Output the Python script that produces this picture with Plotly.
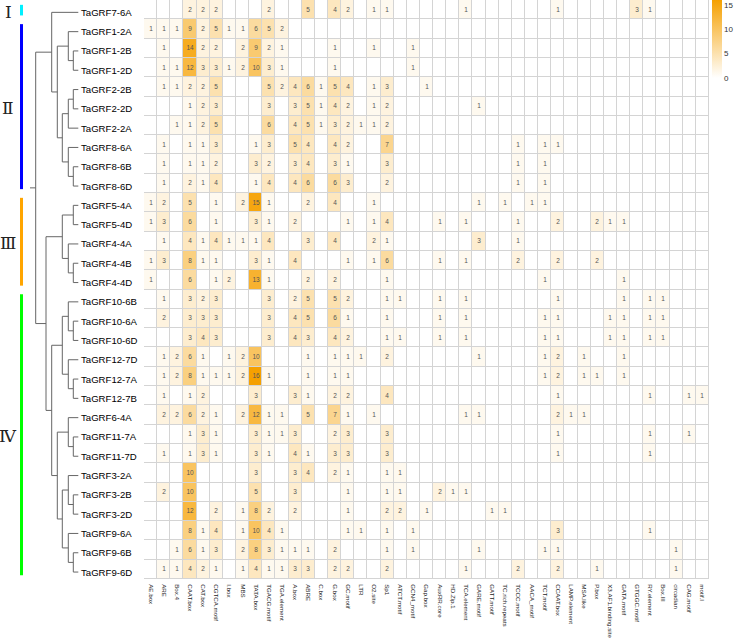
import plotly.graph_objects as go

W, H = 739, 642

genes = ["TaGRF7-6A", "TaGRF1-2A", "TaGRF1-2B", "TaGRF1-2D", "TaGRF2-2B", "TaGRF2-2D",
         "TaGRF2-2A", "TaGRF8-6A", "TaGRF8-6B", "TaGRF8-6D", "TaGRF5-4A", "TaGRF5-4D",
         "TaGRF4-4A", "TaGRF4-4B", "TaGRF4-4D", "TaGRF10-6B", "TaGRF10-6A", "TaGRF10-6D",
         "TaGRF12-7D", "TaGRF12-7A", "TaGRF12-7B", "TaGRF6-4A", "TaGRF11-7A", "TaGRF11-7D",
         "TaGRF3-2A", "TaGRF3-2B", "TaGRF3-2D", "TaGRF9-6A", "TaGRF9-6B", "TaGRF9-6D"]

motifs = ["AE.box", "ARE", "Box.4", "CAAT.box", "CAT.box", "CGTCA.motif", "I.box", "MBS",
          "TATA.box", "TGACG.motif", "TGA.element", "A.box", "ABRE", "C.box", "G.box",
          "GC.motif", "LTR", "O2.site", "Sp1", "ATCT.motif", "GCN4_motif", "Gap.box",
          "AuxRR.core", "HD.Zip.1", "TCA.element", "GARE.motif", "GATT.motif",
          "TC.rich.repeats", "TCCC.motif", "AACA_motif", "TCT.motif", "CCAAT.box",
          "LAMP.element", "MSA.like", "P.box", "X3.AF1.binding.site", "GATA.motif",
          "GTGGC.motif", "RY.element", "Box.III", "circadian", "CAG.motif", "motif.I"]

counts = [
    [0,0,0,2,2,2,0,0,0,2, 0,0,5,0,4,2,0,1,1,0, 0,0,0,0,1,0,0,0,0,0, 0,1,0,0,0,0,0,3,1,0, 0,0,0],
    [1,1,1,9,2,5,1,1,6,5, 2,0,0,0,0,0,0,0,0,0, 0,0,0,0,0,0,0,0,0,0, 0,0,0,0,0,0,0,0,0,0, 0,0,0],
    [0,1,0,14,2,2,0,2,9,2, 1,0,0,0,1,0,0,1,0,0, 1,0,0,0,0,0,0,0,0,0, 0,0,0,0,0,0,0,0,0,0, 0,0,0],
    [0,1,1,12,3,3,1,2,10,3, 1,0,0,0,1,0,0,0,0,0, 1,0,0,0,0,0,0,0,0,0, 0,0,0,0,0,0,0,0,0,0, 0,0,0],
    [0,1,1,2,2,5,0,0,0,5, 2,4,6,1,5,4,0,1,3,0, 0,1,0,0,0,0,0,0,0,0, 0,0,0,0,0,0,0,0,0,0, 0,0,0],
    [0,0,0,1,2,3,0,0,0,3, 0,3,5,1,4,2,0,1,2,0, 0,0,0,0,0,1,0,0,0,0, 0,0,0,0,0,0,0,0,0,0, 0,0,0],
    [0,0,1,1,2,5,0,0,0,6, 0,4,5,1,3,2,1,1,2,0, 0,0,0,0,0,0,0,0,0,0, 0,0,0,0,0,0,0,0,0,0, 0,0,0],
    [0,1,0,1,1,3,0,0,1,3, 0,5,4,0,4,2,0,0,7,0, 0,0,0,0,0,0,0,0,1,0, 1,1,0,0,0,0,0,0,0,0, 0,0,0],
    [0,1,0,1,1,2,0,0,3,2, 0,3,4,0,3,1,0,0,3,0, 0,0,0,0,0,0,0,0,1,0, 1,0,0,0,0,0,0,0,0,0, 0,0,0],
    [0,1,0,2,1,4,0,0,1,4, 0,4,6,0,6,3,0,0,2,0, 0,0,0,0,0,0,0,0,1,0, 1,0,0,0,0,0,0,0,0,0, 0,0,0],
    [1,2,0,5,0,1,0,2,15,1, 0,0,2,0,4,0,0,1,0,0, 0,0,0,0,0,1,0,1,0,1, 1,0,0,0,0,0,0,0,0,0, 0,0,0],
    [1,3,0,6,0,1,0,0,3,1, 0,2,0,0,0,1,0,1,4,0, 0,0,1,0,1,0,0,0,1,0, 0,2,0,0,2,1,1,0,0,0, 0,0,0],
    [0,1,0,4,1,4,1,1,1,4, 0,0,3,0,4,0,0,2,1,0, 0,0,0,0,0,3,0,0,1,0, 0,0,0,0,0,0,0,0,0,0, 0,0,0],
    [1,3,0,8,1,1,0,0,3,1, 0,4,0,0,0,1,0,1,6,0, 0,0,1,0,1,0,0,0,2,0, 0,2,0,0,2,0,0,0,0,0, 0,0,0],
    [1,0,0,6,0,1,2,0,13,1, 0,0,2,0,2,0,0,0,1,0, 0,0,0,0,0,0,0,0,0,0, 1,0,0,0,0,0,1,0,0,0, 0,0,0],
    [0,1,0,3,2,3,0,0,0,3, 0,2,5,0,5,2,0,0,1,1, 0,0,1,0,1,0,0,0,0,0, 0,1,0,0,0,0,1,0,1,1, 0,0,0],
    [0,2,0,3,3,3,0,0,0,3, 0,4,5,0,6,1,0,0,1,0, 0,0,1,0,1,0,0,0,0,0, 1,1,0,0,0,1,1,0,1,1, 0,0,0],
    [0,0,0,3,4,3,0,0,0,3, 0,4,3,0,4,2,0,0,1,1, 0,0,1,0,1,0,0,0,0,0, 1,1,0,0,0,1,1,0,1,1, 0,0,0],
    [0,1,2,6,1,0,1,2,10,0, 0,0,1,0,1,1,1,0,2,0, 0,0,0,0,0,1,0,0,0,0, 1,2,0,1,0,0,1,0,0,0, 0,0,0],
    [0,1,2,8,1,1,1,2,16,1, 0,0,1,0,1,1,0,0,0,0, 0,0,0,0,0,0,0,0,0,0, 1,2,0,1,1,0,1,0,0,0, 0,0,0],
    [0,1,0,1,2,0,0,0,3,0, 0,3,1,0,2,2,0,0,4,0, 0,0,0,0,0,0,0,0,0,0, 0,1,0,0,0,0,0,0,1,0, 0,1,1],
    [0,2,2,6,2,1,0,2,12,1, 1,0,5,0,7,1,0,1,0,0, 0,0,0,0,1,1,0,0,0,0, 0,2,1,1,0,0,0,0,0,0, 0,0,0],
    [0,0,0,1,3,1,0,0,3,1, 1,3,0,0,2,3,0,0,3,0, 0,0,0,0,0,0,0,0,0,0, 0,1,0,0,0,0,0,0,1,0, 0,1,0],
    [0,1,0,1,3,1,0,0,3,1, 0,4,1,0,3,3,0,0,3,0, 0,0,0,0,0,0,0,0,0,0, 0,1,0,0,0,0,0,0,1,0, 0,0,0],
    [0,0,0,10,0,0,0,0,3,0, 0,3,4,0,2,1,0,0,1,1, 0,0,0,0,0,0,0,0,0,0, 0,0,0,0,0,0,0,0,0,0, 0,0,0],
    [0,2,0,10,0,0,0,0,5,0, 0,3,0,0,0,1,0,0,1,1, 0,0,2,1,1,0,0,0,0,0, 0,0,0,0,0,0,0,0,0,0, 0,0,0],
    [0,0,0,12,0,2,0,1,8,2, 0,2,0,0,0,1,0,0,2,2, 0,1,0,0,0,0,1,1,0,0, 0,0,0,0,0,0,0,0,0,0, 0,0,0],
    [0,0,0,8,1,4,0,1,10,4, 1,0,0,0,0,1,1,0,1,0, 1,0,0,0,0,0,0,0,0,0, 0,3,0,0,0,0,0,0,1,0, 0,0,0],
    [0,0,1,6,1,3,0,2,8,3, 1,1,1,0,2,0,0,0,1,0, 1,0,0,0,0,1,0,0,0,0, 1,1,0,0,0,0,0,0,0,0, 1,0,0],
    [0,1,1,4,2,1,0,1,4,1, 1,3,3,0,2,2,0,0,2,0, 0,0,0,0,1,0,0,0,2,0, 0,2,0,0,1,0,0,0,0,0, 1,0,0],
]

# dendrogram: (merge height, left, right)
tree = (42.6,
        (26.6, "TaGRF7-6A",
         (21, (10, "TaGRF1-2A", (5, "TaGRF1-2B", "TaGRF1-2D")),
          (16, (10, (5, "TaGRF2-2B", "TaGRF2-2D"), "TaGRF2-2A"),
           (10, "TaGRF8-6A", (5, "TaGRF8-6B", "TaGRF8-6D"))))),
        (32.3,
         (16, (5, "TaGRF5-4A", "TaGRF5-4D"), (10, "TaGRF4-4A", (5, "TaGRF4-4B", "TaGRF4-4D"))),
         (26.6,
          (16, (10, "TaGRF10-6B", (5, "TaGRF10-6A", "TaGRF10-6D")),
           (10, "TaGRF12-7D", (5, "TaGRF12-7A", "TaGRF12-7B"))),
          (21, (10, "TaGRF6-4A", (5, "TaGRF11-7A", "TaGRF11-7D")),
           (16, (10, "TaGRF3-2A", (5, "TaGRF3-2B", "TaGRF3-2D")),
            (10, "TaGRF9-6A", (5, "TaGRF9-6B", "TaGRF9-6D")))))))
root_stub = 48.3

group_names = ["Ⅰ", "Ⅱ", "Ⅲ", "Ⅳ"]
group_first = [0, 1, 10, 15]
group_last = [0, 9, 14, 29]
group_colors = ["#00F0FF", "#0000FF", "#FFA500", "#00FF00"]

# ---------------- figure ----------------
nrow, ncol = len(genes), len(motifs)
hm_left, hm_right, hm_top, hm_bottom = 144, 709, 0, 579
label_shift = 2.7

fig = go.Figure()

text = [[str(v) if v else "" for v in row] for row in counts]
fig.add_trace(go.Heatmap(
    z=counts, x=list(range(ncol)), y=list(range(nrow)),
    text=text, texttemplate="%{text}",
    textfont=dict(size=6.5, color="#555555", family="Liberation Sans, Arial"),
    colorscale=[[0, "#FFFFFF"], [1, "#F5A000"]], zmin=0, zmax=16,
    xgap=1, ygap=1, hoverinfo="skip",
    colorbar=dict(x=712 / W, xanchor="left", y=1, yanchor="top",
                  len=78, lenmode="pixels", thickness=10, thicknessmode="pixels",
                  outlinewidth=0, tickvals=[0, 5, 10, 15], ticks="",
                  tickfont=dict(size=8, color="#333333", family="Liberation Sans, Arial"),
                  xpad=0, ypad=0),
))

# dendrogram
xs, ys = [], []
def place(node):
    if isinstance(node, str):
        return genes.index(node), 0.0
    h, a, b = node
    ya, ha = place(a)
    yb, hb = place(b)
    xs.extend([-ha, -h, -h, -hb, None])
    ys.extend([ya, ya, yb, yb, None])
    return (ya + yb) / 2, h
ry, rh = place(tree)
xs.extend([-rh, -root_stub])
ys.extend([ry, ry])
fig.add_trace(go.Scatter(x=xs, y=ys, mode="lines", xaxis="x2", yaxis="y2",
                         line=dict(color="#666666", width=1), hoverinfo="skip",
                         showlegend=False))

annotations = []
for i, g in enumerate(genes):
    annotations.append(dict(x=1.0, y=i, xref="x2", yref="y2", text=g, showarrow=False,
                            xanchor="left", yanchor="middle",
                            font=dict(size=9.6, color="#000000", family="Liberation Sans, Arial")))
shapes = [dict(type="rect", xref="x domain", yref="y domain", x0=0, x1=1, y0=0, y1=1,
               fillcolor="#D4D4D4", line=dict(width=0), layer="below")]
for name, a, b, c in zip(group_names, group_first, group_last, group_colors):
    shapes.append(dict(type="rect", xref="x2", yref="y", x0=-58.3, x1=-55.3,
                       y0=a - 0.25, y1=b + 0.3, fillcolor=c, line=dict(width=0)))
    annotations.append(dict(x=-70.3, y=(a + b) / 2 + 0.1, xref="x2", yref="y", text=name,
                            showarrow=False, xanchor="center", yanchor="middle",
                            font=dict(size=17, color="#222222",
                                      family="DejaVu Serif, Liberation Serif, serif")))

ydom = [1 - hm_bottom / H, 1 - hm_top / H]
fig.update_layout(
    width=W, height=H, autosize=False,
    margin=dict(l=0, r=0, t=0, b=0, pad=0, autoexpand=False),
    paper_bgcolor="white", plot_bgcolor="white",
    showlegend=False,
    xaxis=dict(domain=[hm_left / W, hm_right / W], range=[-0.5, ncol - 0.5],
               tickvals=list(range(ncol)), ticktext=motifs, tickangle=90,
               tickfont=dict(size=6.2, color="#222222", family="Liberation Sans, Arial"),
               ticks="outside", ticklen=3, tickcolor="rgba(0,0,0,0)",
               showgrid=False, zeroline=False, showline=False, anchor="y",
               automargin=False),
    yaxis=dict(domain=ydom, range=[nrow - 0.5, -0.5], showticklabels=False,
               showgrid=False, zeroline=False, ticks="", anchor="x", automargin=False),
    xaxis2=dict(domain=[0, hm_left / W], range=[-78.3, 65.7], visible=False, anchor="y2"),
    yaxis2=dict(domain=[ydom[0] - label_shift / H, ydom[1] - label_shift / H],
                range=[nrow - 0.5, -0.5], visible=False, anchor="x2"),
    annotations=annotations, shapes=shapes,
)

fig.write_html("out.html", config={"displayModeBar": False, "staticPlot": True},
               post_script="document.body.style.margin='0px';document.body.style.overflow='hidden';")
